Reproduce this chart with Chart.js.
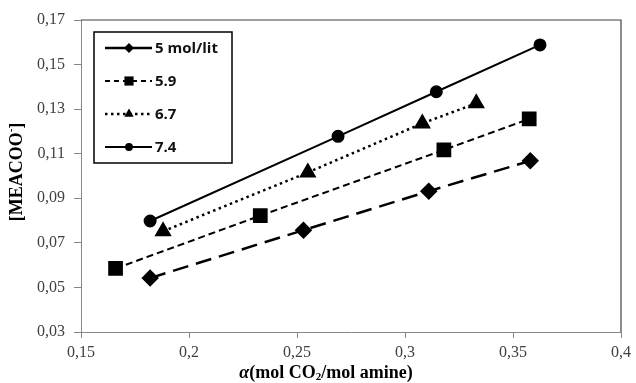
<!DOCTYPE html>
<html>
<head>
<meta charset="utf-8">
<script src="https://cdn.jsdelivr.net/npm/chart.js@4/dist/chart.umd.min.js"></script>
<style>
  body { margin: 0; background: #fff; }
  #wrap { width: 636px; height: 383px; position: relative; }
</style>
</head>
<body>
<div id="wrap"><canvas id="myChart"></canvas></div>
<script>
const ctx = document.getElementById('myChart');

// series labels
const seriesLabels = ['5 mol/lit', '5.9', '6.7', '7.4'];

// alpha (mol CO2/mol amine) and [MEACOO-]
const alpha5 = [0.182, 0.253, 0.311, 0.358];
const mea5 = [0.0542, 0.0757, 0.0932, 0.1068];

const alpha59 = [0.166, 0.233, 0.318, 0.3575];
const mea59 = [0.0585, 0.0822, 0.1117, 0.1256];

const alpha67 = [0.188, 0.255, 0.308, 0.333];
const mea67 = [0.0752, 0.1016, 0.1236, 0.1326];

const alpha74 = [0.182, 0.269, 0.3145, 0.3625];
const mea74 = [0.0798, 0.1178, 0.1378, 0.1588];

// tick values and labels
const xTicks = [0.15, 0.2, 0.25, 0.3, 0.35, 0.4];
const xTickLabels = ['0,15', '0,2', '0,25', '0,3', '0,35', '0,4'];
const yTicks = [0.03, 0.05, 0.07, 0.09, 0.11, 0.13, 0.15, 0.17];
const yTickLabels = ['0,03', '0,05', '0,07', '0,09', '0,11', '0,13', '0,15', '0,17'];

const toPoints = (xs, ys) => xs.map((x, i) => ({ x: x, y: ys[i] }));

const serif = '"Liberation Serif", "Times New Roman", serif';

// plot area border (top and right side, darker than axes)
const frame = {
    id: 'frame',
    beforeDatasetsDraw(chart) {
        const a = chart.chartArea;
        const c = chart.ctx;
        c.save();
        c.strokeStyle = '#404040';
        c.lineWidth = 1.2;
        c.beginPath();
        c.moveTo(a.left, a.top);
        c.lineTo(a.right, a.top);
        c.lineTo(a.right, a.bottom);
        c.stroke();
        c.restore();
    }
};

// legend in a box inside the plot, plus axis titles
const boxLegend = {
    id: 'boxLegend',
    afterDraw(chart) {
        const c = chart.ctx;
        c.save();
        c.strokeStyle = '#000';
        c.lineWidth = 1.5;
        c.strokeRect(94, 32, 138, 131);
        chart.data.datasets.forEach((ds, i) => {
            const y = 48 + i * 33;
            c.strokeStyle = ds.borderColor;
            c.lineWidth = ds.borderWidth;
            c.setLineDash(ds.legendDash || ds.borderDash || []);
            c.beginPath();
            c.moveTo(105, y);
            c.lineTo(152, y);
            c.stroke();
            c.setLineDash([]);
            c.fillStyle = '#000';
            Chart.helpers.drawPoint(c, {
                pointStyle: ds.pointStyle,
                radius: ds.pointRadius * 0.72,
                rotation: 0,
                borderWidth: 0
            }, 129, y);
            c.fillStyle = '#111';
            c.font = 'bold 15px "Open Sans", "Liberation Sans", sans-serif';
            c.textBaseline = 'middle';
            c.textAlign = 'left';
            c.fillText(ds.label, 155, y + 1);
        });

        // y title
        c.save();
        c.translate(17, 172);
        c.rotate(-Math.PI / 2);
        c.fillStyle = '#000';
        c.textBaseline = 'middle';
        c.font = 'bold 18px ' + serif;
        const main = '[MEACOO';
        const sup = '-';
        const end = ']';
        const w1 = c.measureText(main).width;
        const w3 = c.measureText(end).width;
        c.font = 'bold 11px ' + serif;
        const w2 = c.measureText(sup).width;
        let x = -(w1 + w2 + w3) / 2;
        c.font = 'bold 18px ' + serif;
        c.textAlign = 'left';
        c.fillText(main, x, 0);
        x += w1;
        c.font = 'bold 11px ' + serif;
        c.fillText(sup, x, -6);
        x += w2;
        c.font = 'bold 18px ' + serif;
        c.fillText(end, x, 0);
        c.restore();

        // x title
        const parts = [
            { t: '\u03b1', f: 'italic bold 18px ' + serif, dy: 0 },
            { t: '(mol CO', f: 'bold 18px ' + serif, dy: 0 },
            { t: '2', f: 'bold 11px ' + serif, dy: 4 },
            { t: '/mol amine)', f: 'bold 18px ' + serif, dy: 0 }
        ];
        let total = 0;
        parts.forEach(p => { c.font = p.f; p.w = c.measureText(p.t).width; total += p.w; });
        let px = 326 - total / 2;
        c.fillStyle = '#000';
        c.textBaseline = 'middle';
        c.textAlign = 'left';
        parts.forEach(p => {
            c.font = p.f;
            c.fillText(p.t, px, 373 + p.dy);
            px += p.w;
        });
        c.restore();
    }
};

new Chart(ctx, {
    type: 'line',
    data: {
        datasets: [{
            label: seriesLabels[0],
            data: toPoints(alpha5, mea5),
            borderColor: '#000',
            backgroundColor: '#000',
            borderWidth: 2.5,
            borderDash: [16, 8],
            legendDash: [],
            pointStyle: 'rectRot',
            pointRadius: 7
        }, {
            label: seriesLabels[1],
            data: toPoints(alpha59, mea59),
            borderColor: '#000',
            backgroundColor: '#000',
            borderWidth: 2,
            borderDash: [7, 4],
            legendDash: [5, 4],
            pointStyle: 'rect',
            pointRadius: 9
        }, {
            label: seriesLabels[2],
            data: toPoints(alpha67, mea67),
            borderColor: '#000',
            backgroundColor: '#000',
            borderWidth: 2.5,
            borderDash: [2.5, 3.5],
            pointStyle: 'triangle',
            pointRadius: 7.5
        }, {
            label: seriesLabels[3],
            data: toPoints(alpha74, mea74),
            borderColor: '#000',
            backgroundColor: '#000',
            borderWidth: 2,
            pointStyle: 'circle',
            pointRadius: 5.5
        }]
    },
    options: {
        responsive: true,
        maintainAspectRatio: false,
        animation: false,
        layout: { padding: { top: 20, right: 11, left: 0, bottom: 0 } },
        plugins: {
            legend: { display: false },
            tooltip: { enabled: false }
        },
        elements: {
            line: { tension: 0, fill: false },
            point: { borderWidth: 0, hoverRadius: 0 }
        },
        scales: {
            x: {
                type: 'linear',
                min: 0.15,
                max: 0.4,
                afterBuildTicks: (scale) => { scale.ticks = xTicks.map(v => ({ value: v })); },
                afterFit: (scale) => { scale.height = 51; },
                ticks: {
                    callback: (v, i) => xTickLabels[i],
                    font: { family: serif, size: 16 },
                    color: '#404040',
                    padding: 5,
                    maxRotation: 0
                },
                grid: { drawOnChartArea: false, drawTicks: true, tickLength: 6, color: '#868686' },
                border: { color: '#868686', width: 1 }
            },
            y: {
                type: 'linear',
                min: 0.03,
                max: 0.17,
                afterBuildTicks: (scale) => { scale.ticks = yTicks.map(v => ({ value: v })); },
                afterFit: (scale) => { scale.width = 81; },
                ticks: {
                    callback: (v, i) => yTickLabels[i],
                    font: { family: serif, size: 16 },
                    color: '#404040',
                    padding: 9
                },
                grid: { drawOnChartArea: false, drawTicks: true, tickLength: 7, color: '#868686' },
                border: { color: '#868686', width: 1 }
            }
        }
    },
    plugins: [frame, boxLegend]
});
</script>
</body>
</html>
